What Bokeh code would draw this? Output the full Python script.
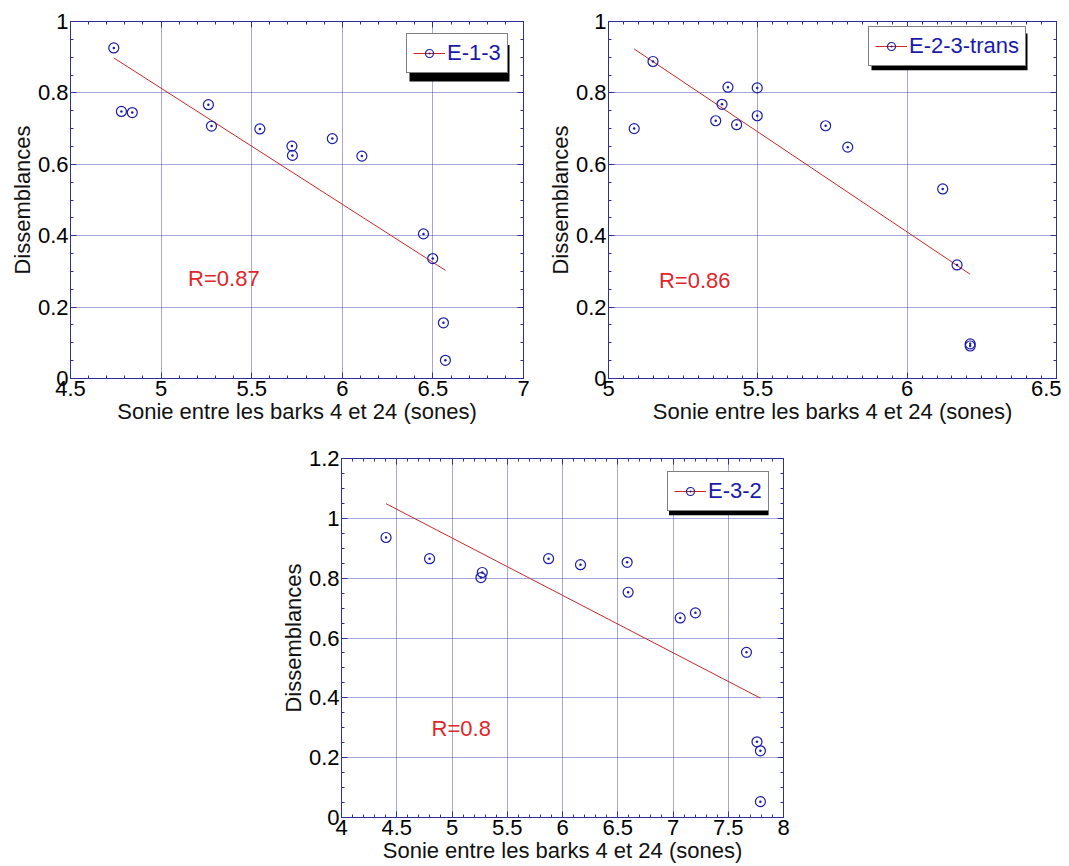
from bokeh.plotting import figure
from bokeh.models import (Range1d, SingleIntervalTicker, LinearAxis, Legend, LegendItem,
                          Label, CustomJSTickFormatter, Spacer, BoxAnnotation)
from bokeh.layouts import row, column
from bokeh.embed import file_html
from bokeh.resources import INLINE

# ---------------- data ----------------
x_e13 = [4.739, 4.781, 4.841, 5.261, 5.278, 5.545, 5.722, 5.725, 5.945, 6.108, 6.448, 6.499, 6.558, 6.569]
y_e13 = [0.926, 0.748, 0.745, 0.767, 0.707, 0.699, 0.651, 0.625, 0.672, 0.623, 0.405, 0.336, 0.156, 0.051]
fit_x_e13 = [4.739, 6.569]
fit_y_e13 = [0.898, 0.303]

x_e23 = [5.086, 5.149, 5.359, 5.380, 5.400, 5.429, 5.498, 5.498, 5.727, 5.801, 6.119, 6.167, 6.211, 6.211]
y_e23 = [0.700, 0.888, 0.722, 0.768, 0.816, 0.711, 0.814, 0.736, 0.708, 0.648, 0.531, 0.318, 0.097, 0.091]
fit_x_e23 = [5.086, 6.211]
fit_y_e23 = [0.923, 0.292]

x_e32 = [4.403, 4.797, 5.274, 5.262, 5.874, 6.163, 6.585, 6.594, 7.065, 7.203, 7.665, 7.760, 7.791, 7.791]
y_e32 = [0.936, 0.865, 0.819, 0.802, 0.865, 0.845, 0.853, 0.753, 0.667, 0.684, 0.552, 0.253, 0.223, 0.053]
fit_x_e32 = [4.403, 7.791]
fit_y_e32 = [1.049, 0.399]

labels = ["E-1-3", "E-2-3-trans", "E-3-2"]
r_texts = ["R=0.87", "R=0.86", "R=0.8"]
x_title = "Sonie entre les barks 4 et 24 (sones)"
y_title = "Dissemblances"

# ---------------- style ----------------
FONT = "Liberation Sans"
BLUE = "#1c1ca8"
AXIS = "#2e2e9e"
GRID = "#3a3aa8"
RED = "#c82828"
TXT_RED = "#e0262a"
EPS = 1e-9

fmt_code = "return String(parseFloat(tick.toFixed(3)));"


def style_axis(ax, labels_on):
    ax.axis_line_color = AXIS
    ax.axis_line_width = 1
    ax.major_tick_line_color = AXIS
    ax.minor_tick_line_color = AXIS
    ax.major_tick_in = 6
    ax.major_tick_out = 0
    ax.minor_tick_in = 3
    ax.minor_tick_out = 0
    if labels_on:
        ax.formatter = CustomJSTickFormatter(code=fmt_code)
        ax.major_label_text_font = FONT
        ax.major_label_text_font_size = "22px"
        ax.major_label_text_color = "black"
        ax.major_label_standoff = 2
        ax.axis_label_text_font = FONT
        ax.axis_label_text_font_size = "22px"
        ax.axis_label_text_font_style = "normal"
        ax.axis_label_text_color = "#111111"
        ax.axis_label_standoff = 0
    else:
        ax.formatter = CustomJSTickFormatter(code="return '';")
        ax.major_label_text_font_size = "1px"
        ax.major_label_text_color = None
        ax.major_label_standoff = 0


def panel(xs, ys, fx, fy, xrng, yrng, x_minor, label, r_text, r_xy, leg_loc, leg_size,
          width, height, borders):
    bl, br, bt, bb = borders
    p = figure(width=width, height=height,
               x_range=Range1d(xrng[0], xrng[1] + EPS), y_range=Range1d(yrng[0], yrng[1] + EPS),
               output_backend="svg", toolbar_location=None,
               min_border_left=bl, min_border_right=br, min_border_top=bt, min_border_bottom=bb,
               background_fill_color="white", border_fill_color="white",
               outline_line_color=AXIS, outline_line_width=1)
    xt = SingleIntervalTicker(interval=0.5, num_minor_ticks=x_minor)
    yt = SingleIntervalTicker(interval=0.2, num_minor_ticks=4)
    bx = p.below[0]
    ly = p.left[0]
    bx.ticker = xt
    ly.ticker = yt
    style_axis(bx, True)
    style_axis(ly, True)
    bx.axis_label = x_title
    ly.axis_label = y_title
    ax_top = LinearAxis(ticker=xt)
    style_axis(ax_top, False)
    ax_right = LinearAxis(ticker=yt)
    style_axis(ax_right, False)
    p.add_layout(ax_top, "above")
    p.add_layout(ax_right, "right")

    p.xgrid.ticker = xt
    p.ygrid.ticker = yt
    for g in (p.xgrid, p.ygrid):
        g.grid_line_color = GRID
        g.grid_line_dash = "1 1"
        g.grid_line_width = 1
        g.grid_line_alpha = 0.9

    line_r = p.line(fx, fy, line_color=RED, line_width=1)
    sc_r = p.scatter(xs, ys, marker="circle_dot", size=10, line_color=BLUE,
                     line_width=1.2, fill_color=None)

    # legend drop shadow (3px offset), pixel box converted to data units
    fw = width - bl - br
    fh = height - bt - bb
    sx = (xrng[1] - xrng[0]) / fw
    sy = (yrng[1] - yrng[0]) / fh
    lx, lyy = leg_loc
    lw, lh = leg_size
    p.add_layout(BoxAnnotation(left=xrng[0] + (lx + 3) * sx, right=xrng[0] + (lx + lw + 3) * sx,
                               bottom=yrng[0] + (lyy - 3) * sy, top=yrng[0] + (lyy + lh - 3) * sy,
                               fill_color="black", fill_alpha=1, line_color=None,
                               level="annotation"))

    leg = Legend(items=[LegendItem(label=label, renderers=[line_r, sc_r])],
                 location=(lx, lyy), background_fill_color="white",
                 background_fill_alpha=1, border_line_color="black", border_line_width=1,
                 label_text_color="#1a1aaa", margin=0, padding=6, spacing=0,
                 glyph_width=32, glyph_height=20, label_standoff=2, label_height=20,
                 label_text_font=FONT, label_text_font_size="22px")
    p.add_layout(leg, "center")

    p.add_layout(Label(x=r_xy[0], y=r_xy[1], text=r_text, text_color=TXT_RED,
                       text_font=FONT, text_font_size="22px", text_baseline="alphabetic"))
    return p


p1 = panel(x_e13, y_e13, fit_x_e13, fit_y_e13, (4.5, 7), (0, 1), 5, labels[0], r_texts[0],
           (5.149, 0.28), (336, 305), (100, 37), 540, 428, (70, 17, 15, 50))
p2 = panel(x_e23, y_e23, fit_x_e23, fit_y_e23, (5, 6.5), (0, 1), 10, labels[1], r_texts[1],
           (5.169, 0.274), (260, 312), (156, 37), 521, 428, (68, 5, 21, 49))
p3 = panel(x_e32, y_e32, fit_x_e32, fit_y_e32, (4, 8), (0, 1.2), 5, labels[2], r_texts[2],
           (4.815, 0.296), (326, 306), (100, 37), 518, 437, (62, 12, 30, 47))

layout = column(row(p1, p2), row(Spacer(width=277, height=10), p3))

open("out.html", "w").write(file_html(layout, INLINE))
